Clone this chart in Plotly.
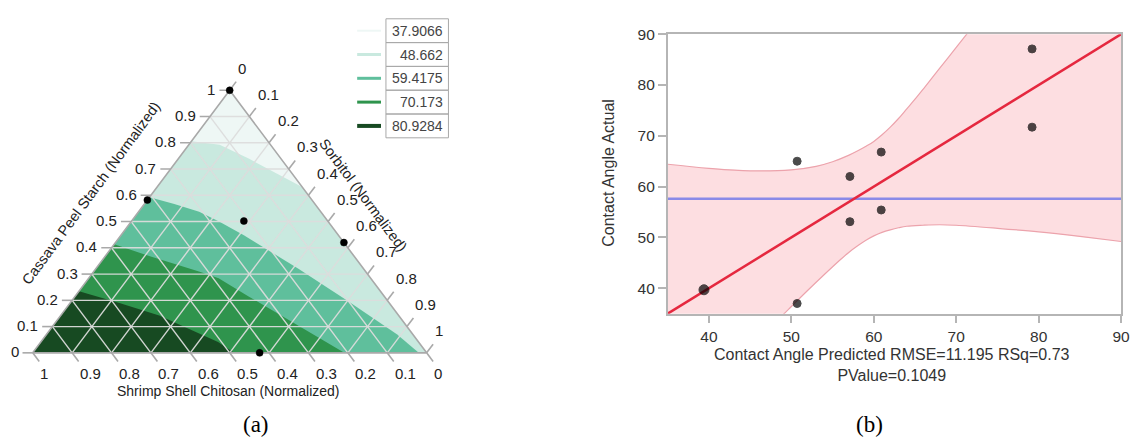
import numpy as np
import plotly.graph_objects as go

W, H = 1144, 441
FONT = "Liberation Sans, Arial, sans-serif"

# ---------------- (a) ternary contour of contact angle ----------------
contour_levels = [37.9066, 48.662, 59.4175, 70.173, 80.9284]
level_colors = ["#eef7f5", "#c9e9df", "#5fbf9c", "#2f944d", "#174a22"]
legend_line_widths = [2, 3, 3, 3, 4]

# level boundaries as (starch, sorbitol) fractions; chitosan = 1 - starch - sorbitol
bound_48_starch = [0.806, 0.801, 0.793, 0.739, 0.679, 0.632]
bound_48_sorbitol = [0.000, 0.036, 0.078, 0.180, 0.285, 0.368]
bound_59_starch = [0.593, 0.567, 0.537, 0.500, 0.448, 0.321, 0.198, 0.071, 0.000]
bound_59_sorbitol = [0.000, 0.076, 0.154, 0.223, 0.312, 0.513, 0.700, 0.889, 0.980]
bound_70_starch = [0.414, 0.369, 0.310, 0.284, 0.216, 0.104, 0.000]
bound_70_sorbitol = [0.000, 0.111, 0.267, 0.330, 0.439, 0.621, 0.791]
bound_81_starch = [0.235, 0.190, 0.142, 0.075, 0.041, 0.000]
bound_81_sorbitol = [0.000, 0.125, 0.250, 0.384, 0.450, 0.511]

# mixture design runs
design_starch = [1.000, 0.582, 0.502, 0.420, 0.000]
design_sorbitol = [0.000, 0.000, 0.285, 0.580, 0.576]

tern_ticks = [0.0, 0.1, 0.2, 0.3, 0.4, 0.5, 0.6, 0.7, 0.8, 0.9, 1.0]
tern_tick_text = ["0", "0.1", "0.2", "0.3", "0.4", "0.5", "0.6", "0.7", "0.8", "0.9", "1"]

# ---------------- (b) actual by predicted ----------------
predicted = [39.4, 50.7, 50.7, 57.1, 57.1, 60.9, 60.9, 79.2, 79.2]
actual = [39.7, 37.0, 65.0, 62.0, 53.1, 66.8, 55.4, 87.1, 71.7]
mean_actual = 57.6
fit_slope, fit_intercept = 1.0, 0.0
band_upper_x = [35, 40, 45, 50, 53, 55, 57, 58, 59, 60, 61, 62, 63, 64, 65, 66, 68, 70, 72]
band_upper_y = [64.4, 63.6, 63.1, 63.3, 64.0, 64.9, 66.2, 67.0, 67.9, 68.9, 70.2, 71.7, 73.4, 75.3, 77.2,
                79.2, 83.3, 87.4, 91.5]
band_lower_x = [46, 48, 49, 50, 52, 54, 56, 57, 58, 59, 60, 61, 62, 63, 64, 66, 68, 70, 75, 80, 85, 90]
band_lower_y = [30.2, 33.3, 34.8, 36.4, 39.6, 42.7, 45.7, 47.1, 48.3, 49.4, 50.3, 51.0, 51.5, 51.9, 52.2,
                52.4, 52.5, 52.4, 51.8, 51.1, 50.2, 49.2]
x_range = [35, 90]
y_range = [35, 90]


def tern_xy(starch, sorbitol):
    """Project (starch, sorbitol) fractions onto the plane of the triangle."""
    s = np.asarray(starch, dtype=float)
    r = np.asarray(sorbitol, dtype=float)
    return r + s / 2.0, s


def px(x):
    return x / W


def py(y):
    return 1 - y / H


# pixel frame of the triangle (chitosan corner, sorbitol corner, base line, apex)
TRI_X0, TRI_X1, TRI_BASE, TRI_TOP = 33.0, 430.0, 351.0, 83.0
SX = TRI_X1 - TRI_X0
SY = TRI_BASE - TRI_TOP
left_dom = [0.0, 0.5]
tern_xrange = [(left_dom[0] * W - TRI_X0) / SX, (left_dom[1] * W - TRI_X0) / SX]
tern_yrange = [(TRI_BASE - H) / SY, TRI_BASE / SY]

fig = go.Figure()

# whole triangle in the lowest band colour
tx, ty = tern_xy([1, 0, 0, 1], [0, 0, 1, 0])
fig.add_trace(go.Scatter(x=tx, y=ty, mode="lines", fill="toself",
                         fillcolor=level_colors[0], line=dict(width=0),
                         hoverinfo="skip", xaxis="x", yaxis="y"))

# higher bands painted on top, each region lies on the chitosan side of its boundary
bands = [
    (bound_48_starch, bound_48_sorbitol, [0, 0], [1, 0]),
    (bound_59_starch, bound_59_sorbitol, [0], [0]),
    (bound_70_starch, bound_70_sorbitol, [0], [0]),
    (bound_81_starch, bound_81_sorbitol, [0], [0]),
]
for k, (bs, br, cs, cr) in enumerate(bands):
    poly_s = list(bs) + cs
    poly_r = list(br) + cr
    poly_s.append(bs[0])
    poly_r.append(br[0])
    x, y = tern_xy(poly_s, poly_r)
    fig.add_trace(go.Scatter(x=x, y=y, mode="lines", fill="toself",
                             fillcolor=level_colors[k + 1],
                             line=dict(width=0, color=level_colors[k + 1]),
                             hoverinfo="skip", xaxis="x", yaxis="y"))

# grid lines for the three components
gx, gy = [], []
for v in tern_ticks[1:-1]:
    for s_pts, r_pts in (
        ([v, v], [0, 1 - v]),            # starch constant
        ([1 - v, 0], [0, 1 - v]),        # chitosan constant
        ([1 - v, 0], [v, v]),            # sorbitol constant
    ):
        x, y = tern_xy(s_pts, r_pts)
        gx += list(x) + [None]
        gy += list(y) + [None]
fig.add_trace(go.Scatter(x=gx, y=gy, mode="lines",
                         line=dict(color="rgba(220,220,220,0.95)", width=1.4),
                         hoverinfo="skip", xaxis="x", yaxis="y"))

# triangle border
fig.add_trace(go.Scatter(x=tx, y=ty, mode="lines",
                         line=dict(color="#a9a9a9", width=1.6),
                         hoverinfo="skip", xaxis="x", yaxis="y"))

# outer tick marks and tick labels
T_STARCH, T_CHIT, T_SORB = 0.026, 0.033, 0.033
kx, ky = [], []
annotations = []
for v, lab in zip(tern_ticks, tern_tick_text):
    # starch (left edge): horizontal ticks
    x0, y0 = tern_xy([v, v], [0, -T_STARCH])
    kx += list(x0) + [None]
    ky += list(y0) + [None]
    annotations.append(dict(x=x0[1], y=y0[1], xref="x", yref="y", text=lab,
                            showarrow=False, xanchor="right", yanchor="middle",
                            xshift=-2, yshift=1, font=dict(size=15, color="#222")))
    # chitosan (bottom edge)
    x1, y1 = tern_xy([0, -T_CHIT], [1 - v, 1 - v + T_CHIT])
    kx += list(x1) + [None]
    ky += list(y1) + [None]
    annotations.append(dict(x=x1[1], y=y1[1], xref="x", yref="y", text=lab,
                            showarrow=False, xanchor="left", yanchor="top",
                            xshift=-1, yshift=-1, font=dict(size=15, color="#222")))
    # sorbitol (right edge)
    x2, y2 = tern_xy([1 - v, 1 - v + T_SORB], [v, v])
    kx += list(x2) + [None]
    ky += list(y2) + [None]
    annotations.append(dict(x=x2[1], y=y2[1], xref="x", yref="y", text=lab,
                            showarrow=False, xanchor="left", yanchor="bottom",
                            xshift=0, yshift=3, font=dict(size=15, color="#222")))
fig.add_trace(go.Scatter(x=kx, y=ky, mode="lines",
                         line=dict(color="#a9a9a9", width=1.6),
                         hoverinfo="skip", xaxis="x", yaxis="y"))

# design points
dx, dy = tern_xy(design_starch, design_sorbitol)
fig.add_trace(go.Scatter(x=dx, y=dy, mode="markers",
                         marker=dict(color="black", size=7, line=dict(width=0.5, color="black")),
                         hoverinfo="skip", xaxis="x", yaxis="y"))

# axis titles of the ternary plot
annotations += [
    dict(x=px(92), y=py(188), xref="paper", yref="paper",
         text="Cassava Peel Starch (Normalized)", textangle=-53.7, showarrow=False,
         xanchor="center", yanchor="middle", font=dict(size=14.5, color="#222")),
    dict(x=px(366), y=py(190), xref="paper", yref="paper",
         text="Sorbitol (Normalized)", textangle=53.3, showarrow=False,
         xanchor="center", yanchor="middle", font=dict(size=14.5, color="#222")),
    dict(x=px(230), y=py(390), xref="paper", yref="paper",
         text="Shrimp Shell Chitosan (Normalized)", showarrow=False,
         xanchor="center", yanchor="middle", font=dict(size=14, color="#222")),
]

# contour legend
shapes = []
LEG_X0, LEG_X1, LEG_TOP, ROW_H = 389, 452, 10, 24.3
for i, (lvl, col, lw) in enumerate(zip(contour_levels, level_colors, legend_line_widths)):
    top = LEG_TOP + i * ROW_H
    mid = top + ROW_H / 2
    shapes.append(dict(type="rect", xref="paper", yref="paper",
                       x0=px(LEG_X0), x1=px(LEG_X1), y0=py(top), y1=py(top + ROW_H),
                       line=dict(color="#a8a8a8", width=1)))
    shapes.append(dict(type="line", xref="paper", yref="paper",
                       x0=px(360), x1=px(384), y0=py(mid), y1=py(mid),
                       line=dict(color=col, width=lw)))
    annotations.append(dict(x=px(LEG_X1 - 3), y=py(mid), xref="paper", yref="paper",
                            text=str(lvl), showarrow=False, xanchor="right",
                            yanchor="middle", font=dict(size=14, color="#444")))

# ---------------- (b) traces ----------------
band_x = list(band_upper_x) + [x_range[1]] + band_lower_x[::-1] + [x_range[0]]
band_y = list(band_upper_y) + [y_range[1]] + band_lower_y[::-1] + [y_range[0]]
fig.add_trace(go.Scatter(x=band_x, y=band_y, mode="lines", fill="toself",
                         fillcolor="rgba(253,222,225,1)", line=dict(width=0),
                         hoverinfo="skip", xaxis="x2", yaxis="y2"))
for bx, by in ((band_upper_x, band_upper_y), (band_lower_x, band_lower_y)):
    fig.add_trace(go.Scatter(x=bx, y=by, mode="lines",
                             line=dict(color="#eca3ac", width=1.2, shape="spline"),
                             hoverinfo="skip", xaxis="x2", yaxis="y2"))
fig.add_trace(go.Scatter(x=x_range, y=[mean_actual, mean_actual], mode="lines",
                         line=dict(color="#8a8ae8", width=2.5),
                         hoverinfo="skip", xaxis="x2", yaxis="y2"))
fit_y = [fit_slope * v + fit_intercept for v in x_range]
fig.add_trace(go.Scatter(x=x_range, y=fit_y, mode="lines",
                         line=dict(color="#e5283f", width=2.5),
                         hoverinfo="skip", xaxis="x2", yaxis="y2"))
fig.add_trace(go.Scatter(x=predicted, y=actual, mode="markers",
                         marker=dict(color="black", size=[10, 8, 8, 8, 8, 8, 8, 8, 8],
                                     line=dict(width=1, color="black")),
                         hoverinfo="skip", xaxis="x2", yaxis="y2"))

annotations += [
    dict(x=px(899), y=py(363), xref="paper", yref="paper",
         text="Contact Angle Predicted RMSE=11.195 RSq=0.73<br>PValue=0.1049",
         showarrow=False, xanchor="center", yanchor="middle",
         font=dict(size=16, color="#333")),
    dict(x=px(613), y=py(167), xref="paper", yref="paper",
         text="Contact Angle Actual", textangle=-90, showarrow=False,
         xanchor="center", yanchor="middle", font=dict(size=16, color="#333")),
    dict(x=px(258), y=py(424), xref="paper", yref="paper", text="(a)",
         showarrow=False, xanchor="center", yanchor="middle",
         font=dict(size=23, color="black", family="Liberation Serif, Times New Roman, serif")),
    dict(x=px(876), y=py(424), xref="paper", yref="paper", text="(b)",
         showarrow=False, xanchor="center", yanchor="middle",
         font=dict(size=23, color="black", family="Liberation Serif, Times New Roman, serif")),
]

axis_b = dict(showline=True, linecolor="#b5b5b5", linewidth=1.5, mirror=True,
              ticks="outside", ticklen=8, tickwidth=1.5, tickcolor="#b5b5b5",
              showgrid=False, zeroline=False, dtick=10,
              tickfont=dict(size=15.5, color="#333"))

fig.update_layout(
    width=W, height=H, autosize=False,
    margin=dict(l=0, r=0, t=0, b=0),
    paper_bgcolor="white", plot_bgcolor="white",
    showlegend=False,
    font=dict(family=FONT, color="#222"),
    xaxis=dict(domain=left_dom, range=tern_xrange, visible=False, fixedrange=True),
    yaxis=dict(domain=[0, 1], range=tern_yrange, visible=False, fixedrange=True),
    xaxis2=dict(domain=[673 / W, 1130 / W], range=x_range, anchor="y2", **axis_b),
    yaxis2=dict(domain=[py(311), py(25.7)], range=y_range, anchor="x2", **axis_b),
    shapes=shapes,
    annotations=annotations,
)

fig.write_html("out.html")
